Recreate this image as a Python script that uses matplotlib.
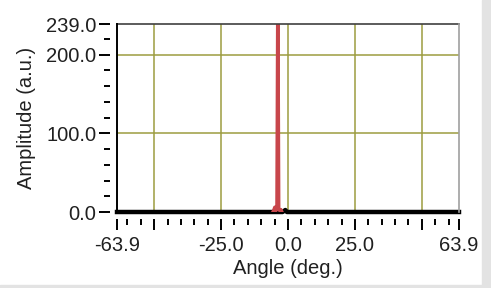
import numpy as np
import matplotlib.pyplot as plt
from matplotlib.ticker import MultipleLocator, FixedLocator
from matplotlib.patches import Rectangle

plt.rcParams['font.family'] = ['Liberation Sans', 'DejaVu Sans']

# data
x_min, x_max = -63.9, 63.9
y_min, y_max = 0.0, 239.0
x_ticks = [-63.9, -50.0, -25.0, 0.0, 25.0, 50.0, 63.9]
x_labels = ['-63.9', '', '-25.0', '0.0', '25.0', '', '63.9']
y_ticks = [0.0, 100.0, 200.0, 239.0]
y_labels = ['0.0', '100.0', '200.0', '239.0']

# red trace (peak)
red_angle = [-5.6, -5.2, -4.9, -4.5, -4.1, -3.8, -3.5, -3.1, -2.7, -2.3]
red_amp = [0.0, 3.0, 6.0, 2.0, 5.0, 260.0, 4.0, 2.0, 3.0, 0.0]
# black trace (baseline)
black_angle = [-63.9, -20.0, -2.0, -1.0, -0.4, 10.0, 63.9]
black_amp = [0.0, 0.0, 0.0, 2.5, 0.0, 0.0, 0.0]


def main():
	fig = plt.figure(figsize=(4.91, 2.88), dpi=100)
	fig.patch.set_facecolor('white')
	# grey window edges
	fig.patches.append(Rectangle((482 / 491, 0), 9 / 491, 1, transform=fig.transFigure,
		color='#e3e3e3', zorder=0))
	fig.patches.append(Rectangle((0, 0), 482 / 491, 3 / 288, transform=fig.transFigure,
		color='#e3e3e3', zorder=0))

	ax = fig.add_axes([117 / 491, 1 - 212 / 288, 342 / 491, 188 / 288])
	ax.set_xlim(x_min, x_max)
	ax.set_ylim(y_min, y_max)

	ax.xaxis.set_major_locator(FixedLocator(x_ticks))
	ax.set_xticklabels(x_labels)
	ax.xaxis.set_minor_locator(MultipleLocator(5))
	ax.yaxis.set_major_locator(FixedLocator(y_ticks))
	ax.set_yticklabels(y_labels)
	ax.yaxis.set_minor_locator(MultipleLocator(20))

	# ticks sit a few pixels away from the frame
	for s in ['left', 'bottom']:
		ax.spines[s].set_position(('outward', 5))
		ax.spines[s].set_visible(False)
	for s in ['top', 'right']:
		ax.spines[s].set_visible(False)

	ax.tick_params(which='major', length=8, width=1.4, labelsize=14.5, direction='out',
		labelcolor='#202020')
	ax.tick_params(which='minor', length=4, width=1.4, direction='out')
	ax.tick_params(axis='x', which='major', pad=4)
	ax.tick_params(axis='y', which='major', pad=2)

	# frame
	ax.plot([0, 1], [1, 1], transform=ax.transAxes, color='#404040', lw=1.2, clip_on=False, zorder=5)
	ax.plot([0, 0], [0, 1], transform=ax.transAxes, color='black', lw=1.4, clip_on=False, zorder=5)
	ax.plot([1, 1], [0, 1], transform=ax.transAxes, color='#a0a0a0', lw=1.2, clip_on=False, zorder=5)

	# grid only at inner positions
	for gx in [-50.0, -25.0, 0.0, 25.0, 50.0]:
		ax.axvline(gx, color='#9c9c40', lw=1.1, zorder=1)
	for gy in [100.0, 200.0]:
		ax.axhline(gy, color='#9c9c40', lw=1.1, zorder=1)

	ax.plot(black_angle, black_amp, color='black', lw=3.2, zorder=3, clip_on=False)
	ax.plot(red_angle, red_amp, color='#c8464b', lw=2.6, zorder=4)

	ax.set_xlabel('Angle (deg.)', fontsize=14.5, labelpad=3, color='#202020')
	ax.set_ylabel('Amplitude (a.u.)', fontsize=14.5, labelpad=7, color='#202020')

	fig.savefig('out.png', dpi=100)


if __name__ == "__main__":
	main()
